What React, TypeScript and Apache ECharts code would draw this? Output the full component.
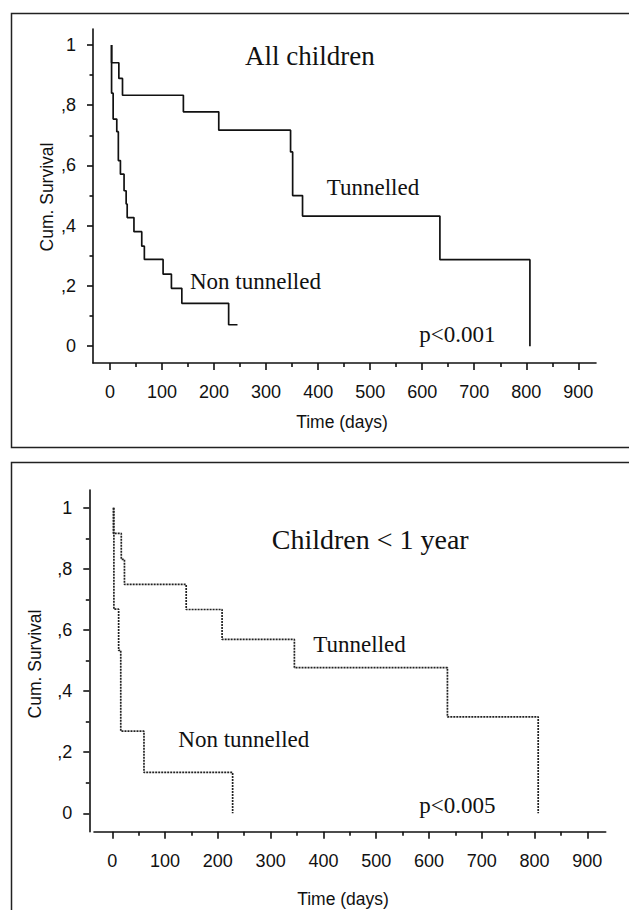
import React, { useEffect, useRef } from "react";
import * as echarts from "echarts";

// ---- data ----
const xMajorTicks = [0, 100, 200, 300, 400, 500, 600, 700, 800, 900];
const xMinorTicks = [50, 150, 250, 350, 450, 550, 650, 750, 850];
const yMajorTicks = [0, 0.2, 0.4, 0.6, 0.8, 1];
const yMinorTicks = [0.1, 0.3, 0.5, 0.7, 0.9];
const yTickLabels = ["0", ",2", ",4", ",6", ",8", "1"];

// Panel 1: All children
const allTunDays = [3, 3, 17, 24, 141, 209, 347, 351, 370, 634, 807];
const allTunSurv = [1, 0.941, 0.889, 0.833, 0.778, 0.717, 0.645, 0.5, 0.432, 0.287, 0];
const allNonDays = [3, 3, 6, 13, 16, 20, 27, 31, 33, 46, 61, 66, 102, 118, 138, 228, 245];
const allNonSurv = [1, 0.84, 0.754, 0.712, 0.616, 0.571, 0.516, 0.472, 0.427, 0.38, 0.332, 0.288, 0.239, 0.192, 0.142, 0.071, 0.071];

// Panel 2: Children < 1 year
const infTunDays = [2, 2, 17, 23, 140, 208, 345, 635, 807];
const infTunSurv = [1, 0.916, 0.831, 0.749, 0.667, 0.569, 0.477, 0.316, 0];
const infNonDays = [3, 3, 12, 16, 60, 228];
const infNonSurv = [1, 0.668, 0.533, 0.269, 0.134, 0];

const pairs = (d: number[], s: number[]) => d.map((v, i) => [v, s[i]]);

const INK = "#111";
const SANS = "Liberation Sans, Arial, sans-serif";
const SERIF = "Liberation Serif, Times New Roman, serif";

const yFmt = (v: number) => {
  const i = yMajorTicks.findIndex((m) => Math.abs(m - v) < 1e-6);
  return i >= 0 ? yTickLabels[i] : "";
};

function majorX(grid: number, min: number, max: number) {
  return {
    type: "value",
    gridIndex: grid,
    min,
    max,
    position: "bottom",
    axisLine: { show: true, onZero: false, lineStyle: { color: INK, width: 1.6 } },
    axisTick: { show: true, length: 7, customValues: xMajorTicks, lineStyle: { color: INK, width: 1.6 } },
    axisLabel: { show: true, customValues: xMajorTicks, margin: 20, fontFamily: SANS, fontSize: 18, color: INK },
    splitLine: { show: false },
  };
}
function minorX(grid: number, min: number, max: number) {
  return {
    type: "value",
    gridIndex: grid,
    min,
    max,
    position: "bottom",
    axisLine: { show: false, onZero: false },
    axisTick: { show: true, length: 4, customValues: xMinorTicks, lineStyle: { color: INK, width: 1.6 } },
    axisLabel: { show: false },
    splitLine: { show: false },
  };
}
function majorY(grid: number, min: number, max: number, offset: number) {
  return {
    type: "value",
    gridIndex: grid,
    min,
    max,
    offset,
    position: "left",
    axisLine: { show: true, onZero: false, lineStyle: { color: INK, width: 1.6 } },
    axisTick: { show: true, length: 6, customValues: yMajorTicks, lineStyle: { color: INK, width: 1.6 } },
    axisLabel: { show: true, customValues: yMajorTicks, formatter: yFmt, margin: 17, fontFamily: SANS, fontSize: 18, color: INK },
    splitLine: { show: false },
  };
}
function minorY(grid: number, min: number, max: number, offset: number) {
  return {
    type: "value",
    gridIndex: grid,
    min,
    max,
    offset,
    position: "left",
    axisLine: { show: false, onZero: false },
    axisTick: { show: true, length: 3.5, customValues: yMinorTicks, lineStyle: { color: INK, width: 1.6 } },
    axisLabel: { show: false },
    splitLine: { show: false },
  };
}

function txt(text: string, x: number, y: number, size: number, family: string, extra: any = {}) {
  return {
    type: "text",
    x,
    y,
    ...extra,
    style: {
      text,
      fontSize: size,
      fontFamily: family,
      fill: INK,
      align: extra.align || "left",
      verticalAlign: "middle",
    },
  };
}

export default function App() {
  const ref = useRef<HTMLDivElement>(null);
  useEffect(() => {
    if (!ref.current) return;
    const chart = echarts.init(ref.current, undefined, { renderer: "svg" });
    chart.setOption({
      animation: false,
      backgroundColor: "#fff",
      grid: [
        { left: 93, top: 29, width: 503, height: 334 },
        { left: 94, top: 490, width: 511.7, height: 341.7 },
      ],
      xAxis: [
        majorX(0, -32.7, 934),
        minorX(0, -32.7, 934),
        majorX(1, -34.7, 934.9),
        minorX(1, -34.7, 934.9),
      ],
      yAxis: [
        majorY(0, -0.056, 1.053, 0),
        minorY(0, -0.056, 1.053, 0),
        majorY(1, -0.06, 1.058, 4.7),
        minorY(1, -0.06, 1.058, 4.7),
      ],
      series: [
        {
          type: "line", name: "Tunnelled (all)", xAxisIndex: 0, yAxisIndex: 0, step: "end",
          symbol: "none", data: pairs(allTunDays, allTunSurv),
          lineStyle: { color: INK, width: 1.7 },
        },
        {
          type: "line", name: "Non tunnelled (all)", xAxisIndex: 0, yAxisIndex: 0, step: "end",
          symbol: "none", data: pairs(allNonDays, allNonSurv),
          lineStyle: { color: INK, width: 1.7 },
        },
        {
          type: "line", name: "Tunnelled (<1y)", xAxisIndex: 2, yAxisIndex: 2, step: "end",
          symbol: "none", data: pairs(infTunDays, infTunSurv),
          lineStyle: { color: "#222", width: 1.7, type: [2, 1] },
        },
        {
          type: "line", name: "Non tunnelled (<1y)", xAxisIndex: 2, yAxisIndex: 2, step: "end",
          symbol: "none", data: pairs(infNonDays, infNonSurv),
          lineStyle: { color: "#222", width: 1.7, type: [2, 1] },
        },
      ],
      graphic: [
        { type: "rect", shape: { x: 11.5, y: 13.5, width: 700, height: 434 }, style: { fill: "none", stroke: "#222", lineWidth: 1.5 } },
        { type: "rect", shape: { x: 11.5, y: 462.5, width: 700, height: 600 }, style: { fill: "none", stroke: "#222", lineWidth: 1.5 } },
        txt("All children", 245, 56, 27, SERIF),
        txt("Tunnelled", 326.7, 187, 23, SERIF),
        txt("Non tunnelled", 190, 281.5, 23, SERIF),
        txt("p<0.001", 419.3, 334, 23, SERIF),
        txt("Time (days)", 342, 422, 17.5, SANS, { align: "center" }),
        txt("Cum. Survival", 47, 197, 17.5, SANS, { align: "center", rotation: Math.PI / 2 }),
        txt("Children < 1 year", 271.7, 539, 28, SERIF),
        txt("Tunnelled", 313.3, 644, 23, SERIF),
        txt("Non tunnelled", 178.3, 739, 23, SERIF),
        txt("p<0.005", 419.3, 805.5, 23, SERIF),
        txt("Time (days)", 343, 899, 17.5, SANS, { align: "center" }),
        txt("Cum. Survival", 35, 664, 17.5, SANS, { align: "center", rotation: Math.PI / 2 }),
      ],
    });
    return () => chart.dispose();
  }, []);
  return (
    <div
      ref={ref}
      style={{ position: "absolute", left: 0, top: 0, width: 629, height: 910, background: "#fff" }}
    />
  );
}
